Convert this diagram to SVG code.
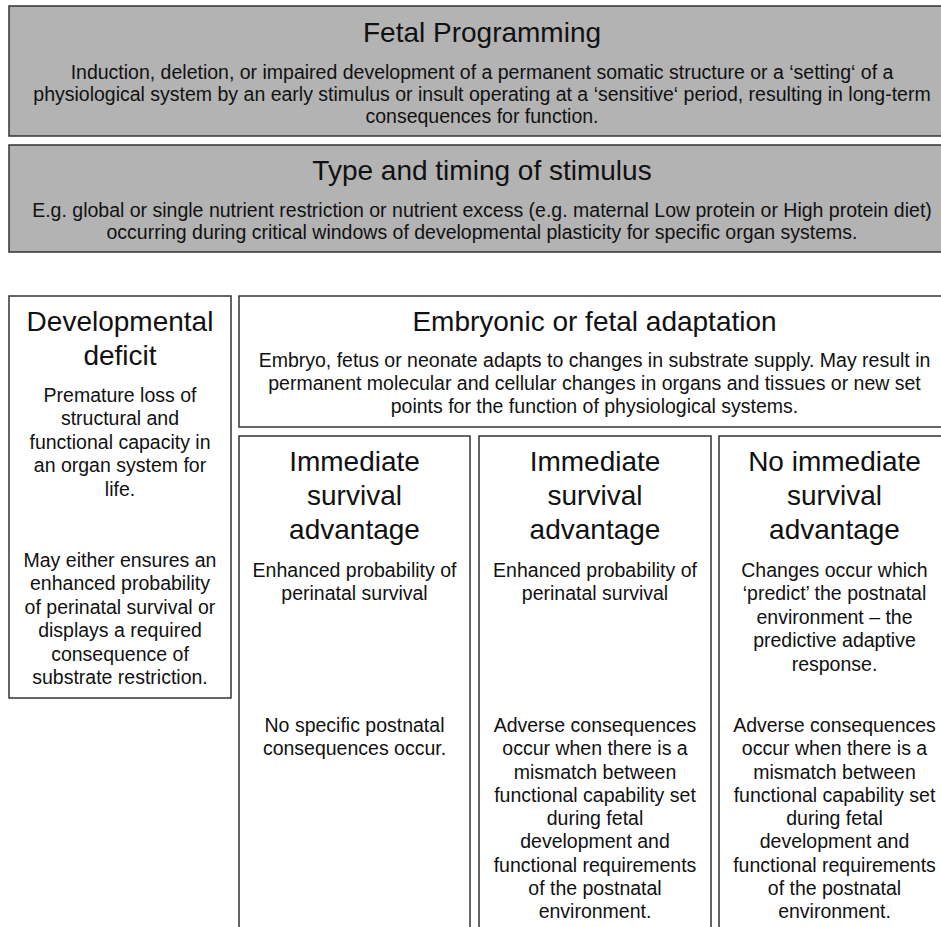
<svg xmlns="http://www.w3.org/2000/svg" width="941" height="927" viewBox="0 0 941 927">
<style>
.box{fill:#fff;stroke:#333;stroke-width:1.5}
.gray{fill:#b3b3b3;stroke:#333;stroke-width:1.5}
text{font-family:"Liberation Sans",Arial,sans-serif;fill:#111;text-anchor:middle}
.t{font-size:28px}
.s{font-size:19.5px}
.b{font-size:19.5px}
</style>
<rect width="941" height="927" fill="#fff"/>
<g id="fetal-programming">
<rect class="gray" x="9" y="6" width="946" height="130"/>
<text class="t" x="482" y="42">Fetal Programming</text>
<text class="s" x="482" y="79">Induction, deletion, or impaired development of a permanent somatic structure or a ‘setting‘ of a</text>
<text class="s" x="482" y="101">physiological system by an early stimulus or insult operating at a ‘sensitive‘ period, resulting in long-term</text>
<text class="s" x="482" y="123">consequences for function.</text>
</g>
<g id="type-timing">
<rect class="gray" x="9" y="145" width="946" height="107"/>
<text class="t" x="482" y="180">Type and timing of stimulus</text>
<text class="s" x="482" y="217">E.g. global or single nutrient restriction or nutrient excess (e.g. maternal Low protein or High protein diet)</text>
<text class="s" x="482" y="239">occurring during critical windows of developmental plasticity for specific organ systems.</text>
</g>
<g id="developmental-deficit">
<rect class="box" x="9" y="296" width="222" height="402"/>
<text class="t" x="120" y="331">Developmental</text>
<text class="t" x="120" y="365">deficit</text>
<text class="b" x="120" y="402">Premature loss of</text>
<text class="b" x="120" y="425.4">structural and</text>
<text class="b" x="120" y="448.8">functional capacity in</text>
<text class="b" x="120" y="472.2">an organ system for</text>
<text class="b" x="120" y="495.6">life.</text>
<text class="b" x="120" y="567">May either ensures an</text>
<text class="b" x="120" y="590.4">enhanced probability</text>
<text class="b" x="120" y="613.8">of perinatal survival or</text>
<text class="b" x="120" y="637.2">displays a required</text>
<text class="b" x="120" y="660.6">consequence of</text>
<text class="b" x="120" y="684">substrate restriction.</text>
</g>
<g id="embryonic-adaptation">
<rect class="box" x="239" y="296" width="711" height="131"/>
<text class="t" x="594.5" y="331">Embryonic or fetal adaptation</text>
<text class="b" x="594.5" y="367">Embryo, fetus or neonate adapts to changes in substrate supply. May result in</text>
<text class="b" x="594.5" y="390">permanent molecular and cellular changes in organs and tissues or new set</text>
<text class="b" x="594.5" y="413">points for the function of physiological systems.</text>
</g>
<g id="immediate-1">
<rect class="box" x="239" y="436" width="231" height="510"/>
<text class="t" x="354.5" y="471">Immediate</text>
<text class="t" x="354.5" y="505">survival</text>
<text class="t" x="354.5" y="539">advantage</text>
<text class="b" x="354.5" y="577">Enhanced probability of</text>
<text class="b" x="354.5" y="600.4">perinatal survival</text>
<text class="b" x="354.5" y="732">No specific postnatal</text>
<text class="b" x="354.5" y="755.25">consequences occur.</text>
</g>
<g id="immediate-2">
<rect class="box" x="479" y="436" width="232" height="510"/>
<text class="t" x="595" y="471">Immediate</text>
<text class="t" x="595" y="505">survival</text>
<text class="t" x="595" y="539">advantage</text>
<text class="b" x="595" y="577">Enhanced probability of</text>
<text class="b" x="595" y="600.4">perinatal survival</text>
<text class="b" x="595" y="732">Adverse consequences</text>
<text class="b" x="595" y="755.25">occur when there is a</text>
<text class="b" x="595" y="778.5">mismatch between</text>
<text class="b" x="595" y="801.75">functional capability set</text>
<text class="b" x="595" y="825">during fetal</text>
<text class="b" x="595" y="848.25">development and</text>
<text class="b" x="595" y="871.5">functional requirements</text>
<text class="b" x="595" y="894.75">of the postnatal</text>
<text class="b" x="595" y="918">environment.</text>
</g>
<g id="no-immediate">
<rect class="box" x="719" y="436" width="231" height="510"/>
<text class="t" x="834.5" y="471">No immediate</text>
<text class="t" x="834.5" y="505">survival</text>
<text class="t" x="834.5" y="539">advantage</text>
<text class="b" x="834.5" y="577">Changes occur which</text>
<text class="b" x="834.5" y="600.4">‘predict’ the postnatal</text>
<text class="b" x="834.5" y="623.8">environment – the</text>
<text class="b" x="834.5" y="647.2">predictive adaptive</text>
<text class="b" x="834.5" y="670.6">response.</text>
<text class="b" x="834.5" y="732">Adverse consequences</text>
<text class="b" x="834.5" y="755.25">occur when there is a</text>
<text class="b" x="834.5" y="778.5">mismatch between</text>
<text class="b" x="834.5" y="801.75">functional capability set</text>
<text class="b" x="834.5" y="825">during fetal</text>
<text class="b" x="834.5" y="848.25">development and</text>
<text class="b" x="834.5" y="871.5">functional requirements</text>
<text class="b" x="834.5" y="894.75">of the postnatal</text>
<text class="b" x="834.5" y="918">environment.</text>
</g>
<g id="connectors"></g>
</svg>
